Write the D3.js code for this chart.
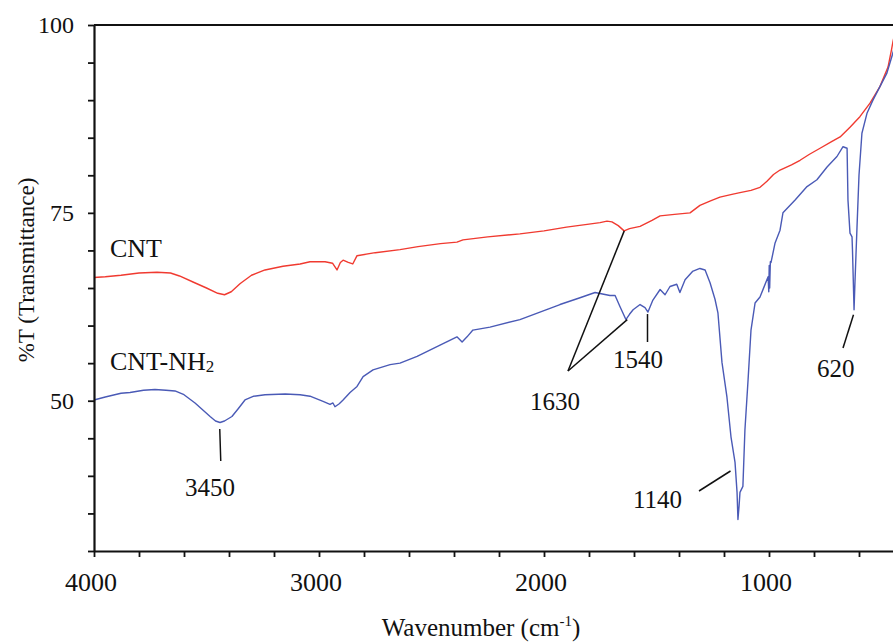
<!DOCTYPE html>
<html>
<head>
<meta charset="utf-8">
<script src="https://cdn.jsdelivr.net/npm/d3@7/dist/d3.min.js"></script>
<style>
  html, body { margin: 0; padding: 0; background: #fff; }
  svg { display: block; }
</style>
</head>
<body>
<svg id="chart" width="893" height="642"></svg>
<script>
// FTIR spectra: wavenumber (cm^-1) and %T for each sample
const cntWavenumber = [4000,3950,3880,3800,3720,3660,3620,3560,3500,3450,3420,3390,3350,3300,3240,3160,3084,3040,2973,2940,2920,2905,2893,2870,2850,2831,2750,2640,2560,2460,2387,2360,2250,2107,2000,1900,1800,1751,1720,1698,1670,1644,1620,1573,1520,1484,1420,1351,1307,1260,1218,1160,1129,1080,1040,1009,980,951,900,862,820,773,720,684,640,596,551,507,471,455,449,440];
const cntT = [66.4,66.5,66.7,67.0,67.1,67.0,66.6,65.8,65.0,64.3,64.1,64.5,65.6,66.7,67.4,67.9,68.2,68.5,68.5,68.3,67.4,68.4,68.7,68.4,68.2,69.3,69.7,70.1,70.5,70.9,71.1,71.4,71.8,72.2,72.6,73.1,73.5,73.7,73.9,73.8,73.3,72.6,72.9,73.2,74.0,74.6,74.8,75.0,76.0,76.6,77.1,77.5,77.7,78.0,78.4,79.2,80.1,80.7,81.4,82.0,82.8,83.6,84.5,85.1,86.4,87.8,89.6,91.8,94.4,96.8,97.8,99.0];

const nh2Wavenumber = [4000,3950,3880,3840,3780,3729,3680,3640,3600,3551,3510,3484,3460,3440,3420,3387,3360,3329,3290,3240,3150,3084,3040,2982,2951,2938,2929,2910,2893,2862,2831,2804,2760,2684,2640,2564,2462,2387,2364,2342,2316,2240,2107,2018,1929,1840,1773,1707,1684,1662,1636,1620,1604,1573,1551,1538,1516,1484,1462,1440,1410,1396,1373,1340,1307,1284,1262,1240,1227,1209,1187,1169,1151,1142,1138,1133,1129,1116,1107,1093,1080,1062,1040,1004,1001,999,997,994,991,973,951,938,884,831,787,742,698,671,653,649,640,631,629,622,618,609,600,587,564,538,507,476,449,440];
const nh2T = [50.1,50.5,51.0,51.1,51.4,51.5,51.4,51.3,50.8,49.7,48.6,47.9,47.3,47.1,47.3,47.9,48.9,50.1,50.6,50.8,50.9,50.8,50.6,49.9,49.5,49.7,49.2,49.6,50.1,51.1,51.9,53.2,54.1,54.8,55.0,55.9,57.4,58.5,57.8,58.5,59.4,59.8,60.8,61.8,62.8,63.7,64.4,64.0,64.0,62.5,60.8,61.5,62.1,62.8,62.4,61.8,63.4,64.8,64.1,65.2,65.5,64.4,66.1,67.2,67.6,67.4,65.7,63.5,61.7,55.1,50.5,45.2,41.8,37.8,34.2,36.0,37.8,38.6,46.1,52.8,59.4,63.0,63.8,66.5,64.5,68.0,65.0,68.5,68.4,71.0,72.7,75.0,76.7,78.5,79.4,81.1,82.5,83.8,83.6,76.7,72.3,71.8,70.1,62.1,65.7,73.0,80.0,85.6,88.3,90.0,91.8,93.6,96.3,97.5];

// Axis ticks and labels
const xTicks = [4000,3800,3600,3400,3200,3000,2800,2600,2400,2200,2000,1800,1600,1400,1200,1000,800,600];
const xTickLabels = [4000, 3000, 2000, 1000];
const yTicks = [30,35,40,45,50,55,60,65,70,75,80,85,90,95,100];
const yTickLabels = [50, 75, 100];

// Peak annotations
const peakLabels = ["3450", "1630", "1540", "1140", "620"];

const FONT = "'Liberation Serif', 'Times New Roman', Times, serif";
const svg = d3.select("#chart");
const x = d3.scaleLinear().domain([4000, 400]).range([94, 904]);
const y = d3.scaleLinear().domain([30, 100]).range([551, 25]);

// spectra
const line = d3.line().x(d => x(d[0])).y(d => y(d[1])).curve(d3.curveLinear);
const cntData = cntWavenumber.map((w, i) => [w, cntT[i]]);
const nh2Data = nh2Wavenumber.map((w, i) => [w, nh2T[i]]);

svg.append("path").datum(cntData).attr("d", line)
  .attr("fill", "none").attr("stroke", "#f03a30").attr("stroke-width", 1.4)
  .attr("stroke-linejoin", "round");
svg.append("path").datum(nh2Data).attr("d", line)
  .attr("fill", "none").attr("stroke", "#4a5ab6").attr("stroke-width", 1.4)
  .attr("stroke-linejoin", "round");

// axes
const axisColor = "#111";
const gx = svg.append("g").attr("transform", `translate(0,${y(30)})`)
  .call(d3.axisBottom(x).tickValues(xTicks).tickFormat("").tickSize(6).tickSizeOuter(0));
const gy = svg.append("g").attr("transform", `translate(${x(4000)},0)`)
  .call(d3.axisLeft(y).tickValues(yTicks).tickFormat("").tickSize(6).tickSizeOuter(0));
[gx, gy].forEach(g => {
  g.select(".domain").attr("stroke", axisColor).attr("stroke-width", 2.2);
  g.selectAll(".tick line").attr("stroke", axisColor).attr("stroke-width", 1.8);
});
// top frame line
svg.append("line").attr("x1", x(4000)).attr("x2", 893).attr("y1", y(100)).attr("y2", y(100))
  .attr("stroke", axisColor).attr("stroke-width", 2.2);

// tick labels
svg.selectAll(".xlab").data(xTickLabels).enter().append("text")
  .attr("x", d => x(d) - 3).attr("y", 591)
  .attr("text-anchor", "middle").attr("font-family", FONT).attr("font-size", 26).attr("fill", "#111")
  .text(d => d);
svg.selectAll(".ylab").data(yTickLabels).enter().append("text")
  .attr("x", 74).attr("y", d => y(d) + 8)
  .attr("text-anchor", "end").attr("font-family", FONT).attr("font-size", 24).attr("fill", "#111")
  .text(d => d);

// axis titles
const xt = svg.append("text").attr("x", 481).attr("y", 636)
  .attr("text-anchor", "middle").attr("font-family", FONT).attr("font-size", 25).attr("fill", "#111");
xt.append("tspan").text("Wavenumber (cm");
xt.append("tspan").attr("font-size", 15).attr("dy", -10).text("-1");
xt.append("tspan").attr("dy", 10).text(")");

svg.append("text").attr("transform", "translate(34,270) rotate(-90)")
  .attr("text-anchor", "middle").attr("font-family", FONT).attr("font-size", 23).attr("fill", "#111")
  .text("%T (Transmittance)");

// series labels
svg.append("text").attr("x", 110).attr("y", 257).attr("font-family", FONT)
  .attr("font-size", 26).attr("fill", "#111").text("CNT");
const nl = svg.append("text").attr("x", 110).attr("y", 370).attr("font-family", FONT)
  .attr("font-size", 26).attr("fill", "#111");
nl.append("tspan").text("CNT-NH");
nl.append("tspan").attr("font-size", 17).attr("dy", 2).text("2");

// peak annotations: leader lines and labels
const ann = svg.append("g").attr("stroke", "#111").attr("stroke-width", 1.5).attr("fill", "none");
ann.append("line").attr("x1", x(3450) + 2).attr("y1", 429).attr("x2", x(3450) + 3).attr("y2", 461);
ann.append("line").attr("x1", 568).attr("y1", 371).attr("x2", x(1630) - 3).attr("y2", y(72.6));
ann.append("line").attr("x1", 568).attr("y1", 371).attr("x2", x(1630)).attr("y2", y(60.8));
ann.append("line").attr("x1", x(1540)).attr("y1", y(61.8) + 2).attr("x2", x(1540)).attr("y2", 342);
ann.append("line").attr("x1", 699).attr("y1", 491).attr("x2", x(1140) - 7).attr("y2", 471);
ann.append("line").attr("x1", 843).attr("y1", 348).attr("x2", x(620) - 1).attr("y2", y(62.1) + 5);

const labelPos = [[185, 496], [530, 410], [613, 368], [633, 508], [817, 377]];
svg.selectAll(".peak").data(peakLabels).enter().append("text")
  .attr("x", (d, i) => labelPos[i][0]).attr("y", (d, i) => labelPos[i][1])
  .attr("font-family", FONT).attr("font-size", 25).attr("fill", "#111")
  .text(d => d);
</script>
</body>
</html>
